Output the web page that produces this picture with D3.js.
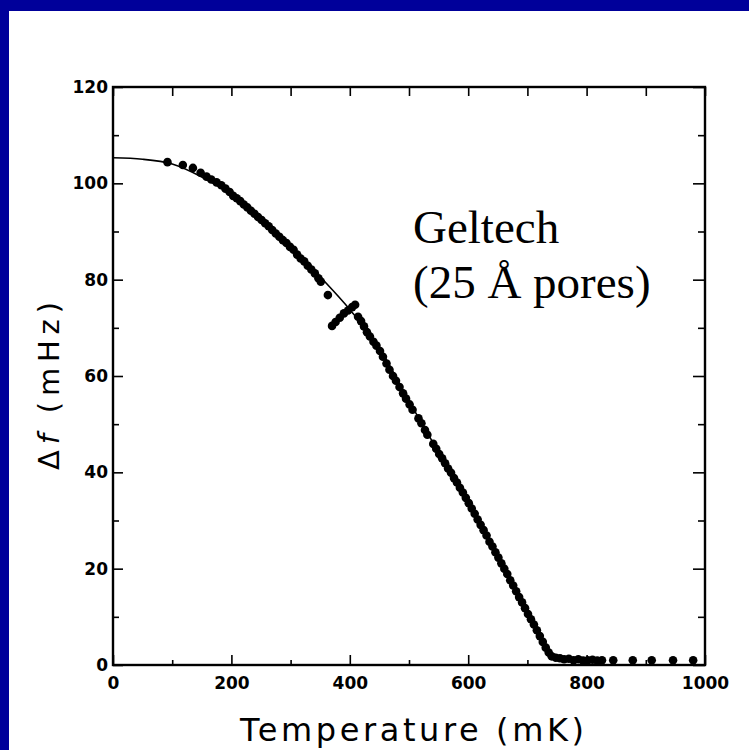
<!DOCTYPE html>
<html>
<head>
<meta charset="utf-8">
<script src="https://cdn.jsdelivr.net/npm/d3@7/dist/d3.min.js"></script>
<style>
  html, body { margin: 0; padding: 0; background: #00009a; }
  svg { display: block; }
</style>
</head>
<body>
<svg id="chart" width="749" height="750"></svg>
<script>
// ---- data ----
const xTickLabels = [0, 200, 400, 600, 800, 1000];
const xMinorTicks = [100, 300, 500, 700, 900];
const yTickLabels = [0, 20, 40, 60, 80, 100, 120];
const yMinorTicks = [10, 30, 50, 70, 90, 110];

// fitted curve (thin line)
const fitT  = [0, 50, 100, 150, 200, 250, 300, 350, 400, 450, 500, 550, 600, 650, 700, 745];
const fitDf = [105.3, 105, 104, 101.3, 97.6, 92.6, 87, 80.6, 73.8, 65.8, 54.8, 44.2, 34, 22.5, 11.4, 1];

// measured points
const dataT = [92,118,135,148,158,166,175,183,190,197,203,209,215,221,227,233,239,245,251,257,263,269,275,281,287,293,299,305,311,317,323,329,335,341,347,351,363,
  370,376,383,390,397,404,409,
  414,419,424,429,434,440,445,451,456,462,467,473,478,484,490,495,501,506,
  516,521,527,531,
  541,546,551,556,561,566,571,576,581,586,591,596,601,606,611,616,621,626,631,636,641,646,651,656,661,666,671,676,681,686,691,696,701,706,711,716,721,726,731,736,741,
  748,755,762,770,778,786,794,802,810,818,826,845,878,910,946,980];
const dataDf = [104.4,103.8,103.2,102.2,101.4,100.8,100.2,99.6,98.9,98.2,97.4,96.9,96.3,95.6,95,94.3,93.7,93,92.4,91.7,91.1,90.3,89.6,88.9,88.2,87.6,86.8,86.2,85.2,84.4,83.8,82.9,82.1,81.3,80.3,79.6,76.8,
  70.4,71.2,72.1,73,73.6,74.3,74.8,
  72.3,71.4,70.3,69.1,68.2,67.1,66.3,65.2,64,62.6,61.3,60,59,57.7,56.4,55.3,54.1,53,
  51.2,50.2,48.8,47.8,
  45.9,44.9,43.8,42.9,41.9,40.8,39.9,38.8,37.9,36.8,35.8,34.7,33.6,32.5,31.4,30.2,29.1,28,26.9,25.6,24.6,23.4,22.3,21.1,20,18.9,17.6,16.5,15.3,14.1,13,11.8,10.6,9.5,8.4,7.2,6,4.8,3.6,2.6,1.8,
  1.5,1.4,1.2,1.3,1,1.2,0.9,1,1.1,0.9,1,1,1,1,1,1];

const xLabel = "Temperature  (mK)";
const noteLines = ["Geltech", "(25 Å pores)"];

// ---- layout ----
const svg = d3.select("#chart");
const W = 749, H = 750;
svg.append("rect").attr("x", 9).attr("y", 11).attr("width", W - 9).attr("height", H - 11).attr("fill", "#ffffff");

const pL = 113, pR = 705, pT = 87, pB = 665;
const x = d3.scaleLinear().domain([0, 1000]).range([pL, pR]);
const y = d3.scaleLinear().domain([0, 120]).range([pB, pT]);

const tickFont = "'DejaVu Sans', sans-serif";

function styleAxis(g) {
  g.select(".domain").remove();
  g.selectAll(".tick line").attr("stroke", "#000").attr("stroke-width", 1.6);
  g.selectAll(".tick text").attr("fill", "#000").attr("font-family", tickFont)
    .attr("font-weight", "bold").attr("font-size", 17);
}

// bottom axis
svg.append("g").attr("transform", `translate(0,${pB})`)
  .call(d3.axisBottom(x).tickValues(xTickLabels).tickSize(-10).tickPadding(12).tickFormat(d3.format("d")))
  .call(styleAxis);
svg.append("g").attr("transform", `translate(0,${pB})`)
  .call(d3.axisBottom(x).tickValues(xMinorTicks).tickSize(-5).tickFormat(""))
  .call(styleAxis);
// top axis
svg.append("g").attr("transform", `translate(0,${pT})`)
  .call(d3.axisTop(x).tickValues(xTickLabels.concat(xMinorTicks)).tickSize(-9).tickFormat(""))
  .call(styleAxis);
// left axis
svg.append("g").attr("transform", `translate(${pL},0)`)
  .call(d3.axisLeft(y).tickValues(yTickLabels).tickSize(-10).tickPadding(5).tickFormat(d3.format("d")))
  .call(styleAxis);
svg.append("g").attr("transform", `translate(${pL},0)`)
  .call(d3.axisLeft(y).tickValues(yMinorTicks).tickSize(-6).tickFormat(""))
  .call(styleAxis);
// right axis
svg.append("g").attr("transform", `translate(${pR},0)`)
  .call(d3.axisRight(y).tickValues(yTickLabels).tickSize(-12).tickFormat(""))
  .call(styleAxis);
svg.append("g").attr("transform", `translate(${pR},0)`)
  .call(d3.axisRight(y).tickValues(yMinorTicks).tickSize(-7).tickFormat(""))
  .call(styleAxis);

// frame
svg.append("rect").attr("x", pL).attr("y", pT).attr("width", pR - pL).attr("height", pB - pT)
  .attr("fill", "none").attr("stroke", "#000").attr("stroke-width", 2.4);

// fit line
const fitPts = fitT.map((t, i) => [t, fitDf[i]]);
svg.append("path").datum(fitPts)
  .attr("d", d3.line().x(d => x(d[0])).y(d => y(d[1])).curve(d3.curveMonotoneX))
  .attr("fill", "none").attr("stroke", "#000").attr("stroke-width", 1.6);

// data points
const pts = dataT.map((t, i) => [t, dataDf[i]]);
svg.append("g").selectAll("circle").data(pts).enter().append("circle")
  .attr("cx", d => x(d[0])).attr("cy", d => y(d[1])).attr("r", 4.3).attr("fill", "#000");

// axis titles
svg.append("text").attr("x", 240).attr("y", 741)
  .attr("font-family", tickFont).attr("font-size", 32).attr("fill", "#000")
  .attr("textLength", 344).attr("lengthAdjust", "spacing")
  .text(xLabel);

const yt = svg.append("text").attr("transform", "translate(59,470) rotate(-90)")
  .attr("font-family", tickFont).attr("font-size", 29).attr("fill", "#000")
  .attr("textLength", 168).attr("lengthAdjust", "spacing");
yt.append("tspan").text("Δ");
yt.append("tspan").attr("font-style", "italic").text("f");
yt.append("tspan").text("  (mHz)");

// annotation
svg.append("g").selectAll("text").data(noteLines).enter().append("text")
  .attr("x", 413).attr("y", (d, i) => 243 + i * 55)
  .attr("font-family", "'Liberation Serif', 'Times New Roman', serif").attr("font-size", 47).attr("fill", "#000")
  .text(d => d);
</script>
</body>
</html>
